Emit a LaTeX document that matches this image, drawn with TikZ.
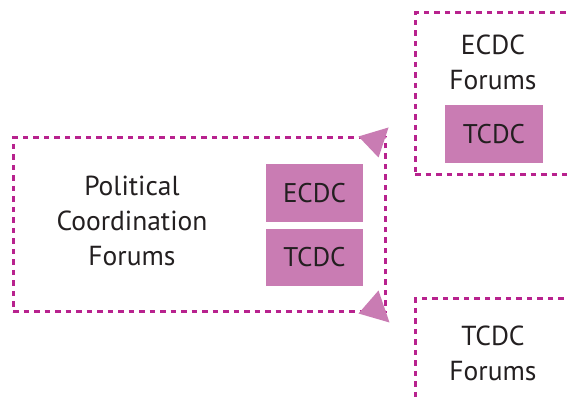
\documentclass[tikz,border=0pt]{standalone}
\usepackage{fontspec}
\setmainfont{PT Sans}
\usetikzlibrary{positioning,calc}
\definecolor{dashmag}{HTML}{B8228E}
\definecolor{pinkfill}{HTML}{C97CB3}
\definecolor{txt}{HTML}{231F20}
\tikzset{
  x=1pt,y=1pt,
  forum/.style={draw=dashmag,line width=3pt,dash pattern=on 5.5pt off 5pt,inner sep=0pt},
  tag/.style={fill=pinkfill,minimum width=97pt,minimum height=58pt,inner sep=0pt,text=txt,font=\fontsize{27}{27}\selectfont},
  lbl/.style={text=txt,font=\fontsize{27.5}{35}\selectfont,align=center,inner sep=0pt},
  tipfill/.style={fill=pinkfill}
}
\begin{document}
\begin{tikzpicture}
\clip (0,0) rectangle (567,401);
\fill[white] (0,0) rectangle (567,401);
% main box
\node[forum,minimum width=372pt,minimum height=174pt] (main) at (199,176) {};
\node[tag] (ecdc) at (314.5,208) {\raisebox{-2pt}{ECDC}};
\node[tag,minimum height=57pt] (tcdc) at (314.5,143.5) {\raisebox{-2pt}{TCDC}};
\node[lbl] (pol) at (132,180) {Political\\Coordination\\Forums};
% ECDC forums box (open to right edge)
\node[forum,minimum width=220pt,minimum height=162pt] (ef) at (525,307) {};
\node[lbl] (eft) at (493,339) {ECDC\\Forums};
\node[tag,minimum width=98pt] (eftag) at (494,267) {\raisebox{-2pt}{TCDC}};
% TCDC forums box (open to bottom edge)
\node[forum,minimum width=220pt,minimum height=160pt] (tf) at (525,22) {};
\node[lbl] (tft) at (493,48) {TCDC\\Forums};
% arrow tips
\coordinate (a1) at ($(main.north east)+(2,9)$);
\coordinate (a2) at ($(main.south east)+(3,-9)$);
\fill[tipfill] (a1) -- ++(-30,-9) -- ++(20,-21) -- cycle;
\fill[tipfill] (a2) -- ++(-11,32) -- ++(-20,-23) -- cycle;
\end{tikzpicture}
\end{document}
